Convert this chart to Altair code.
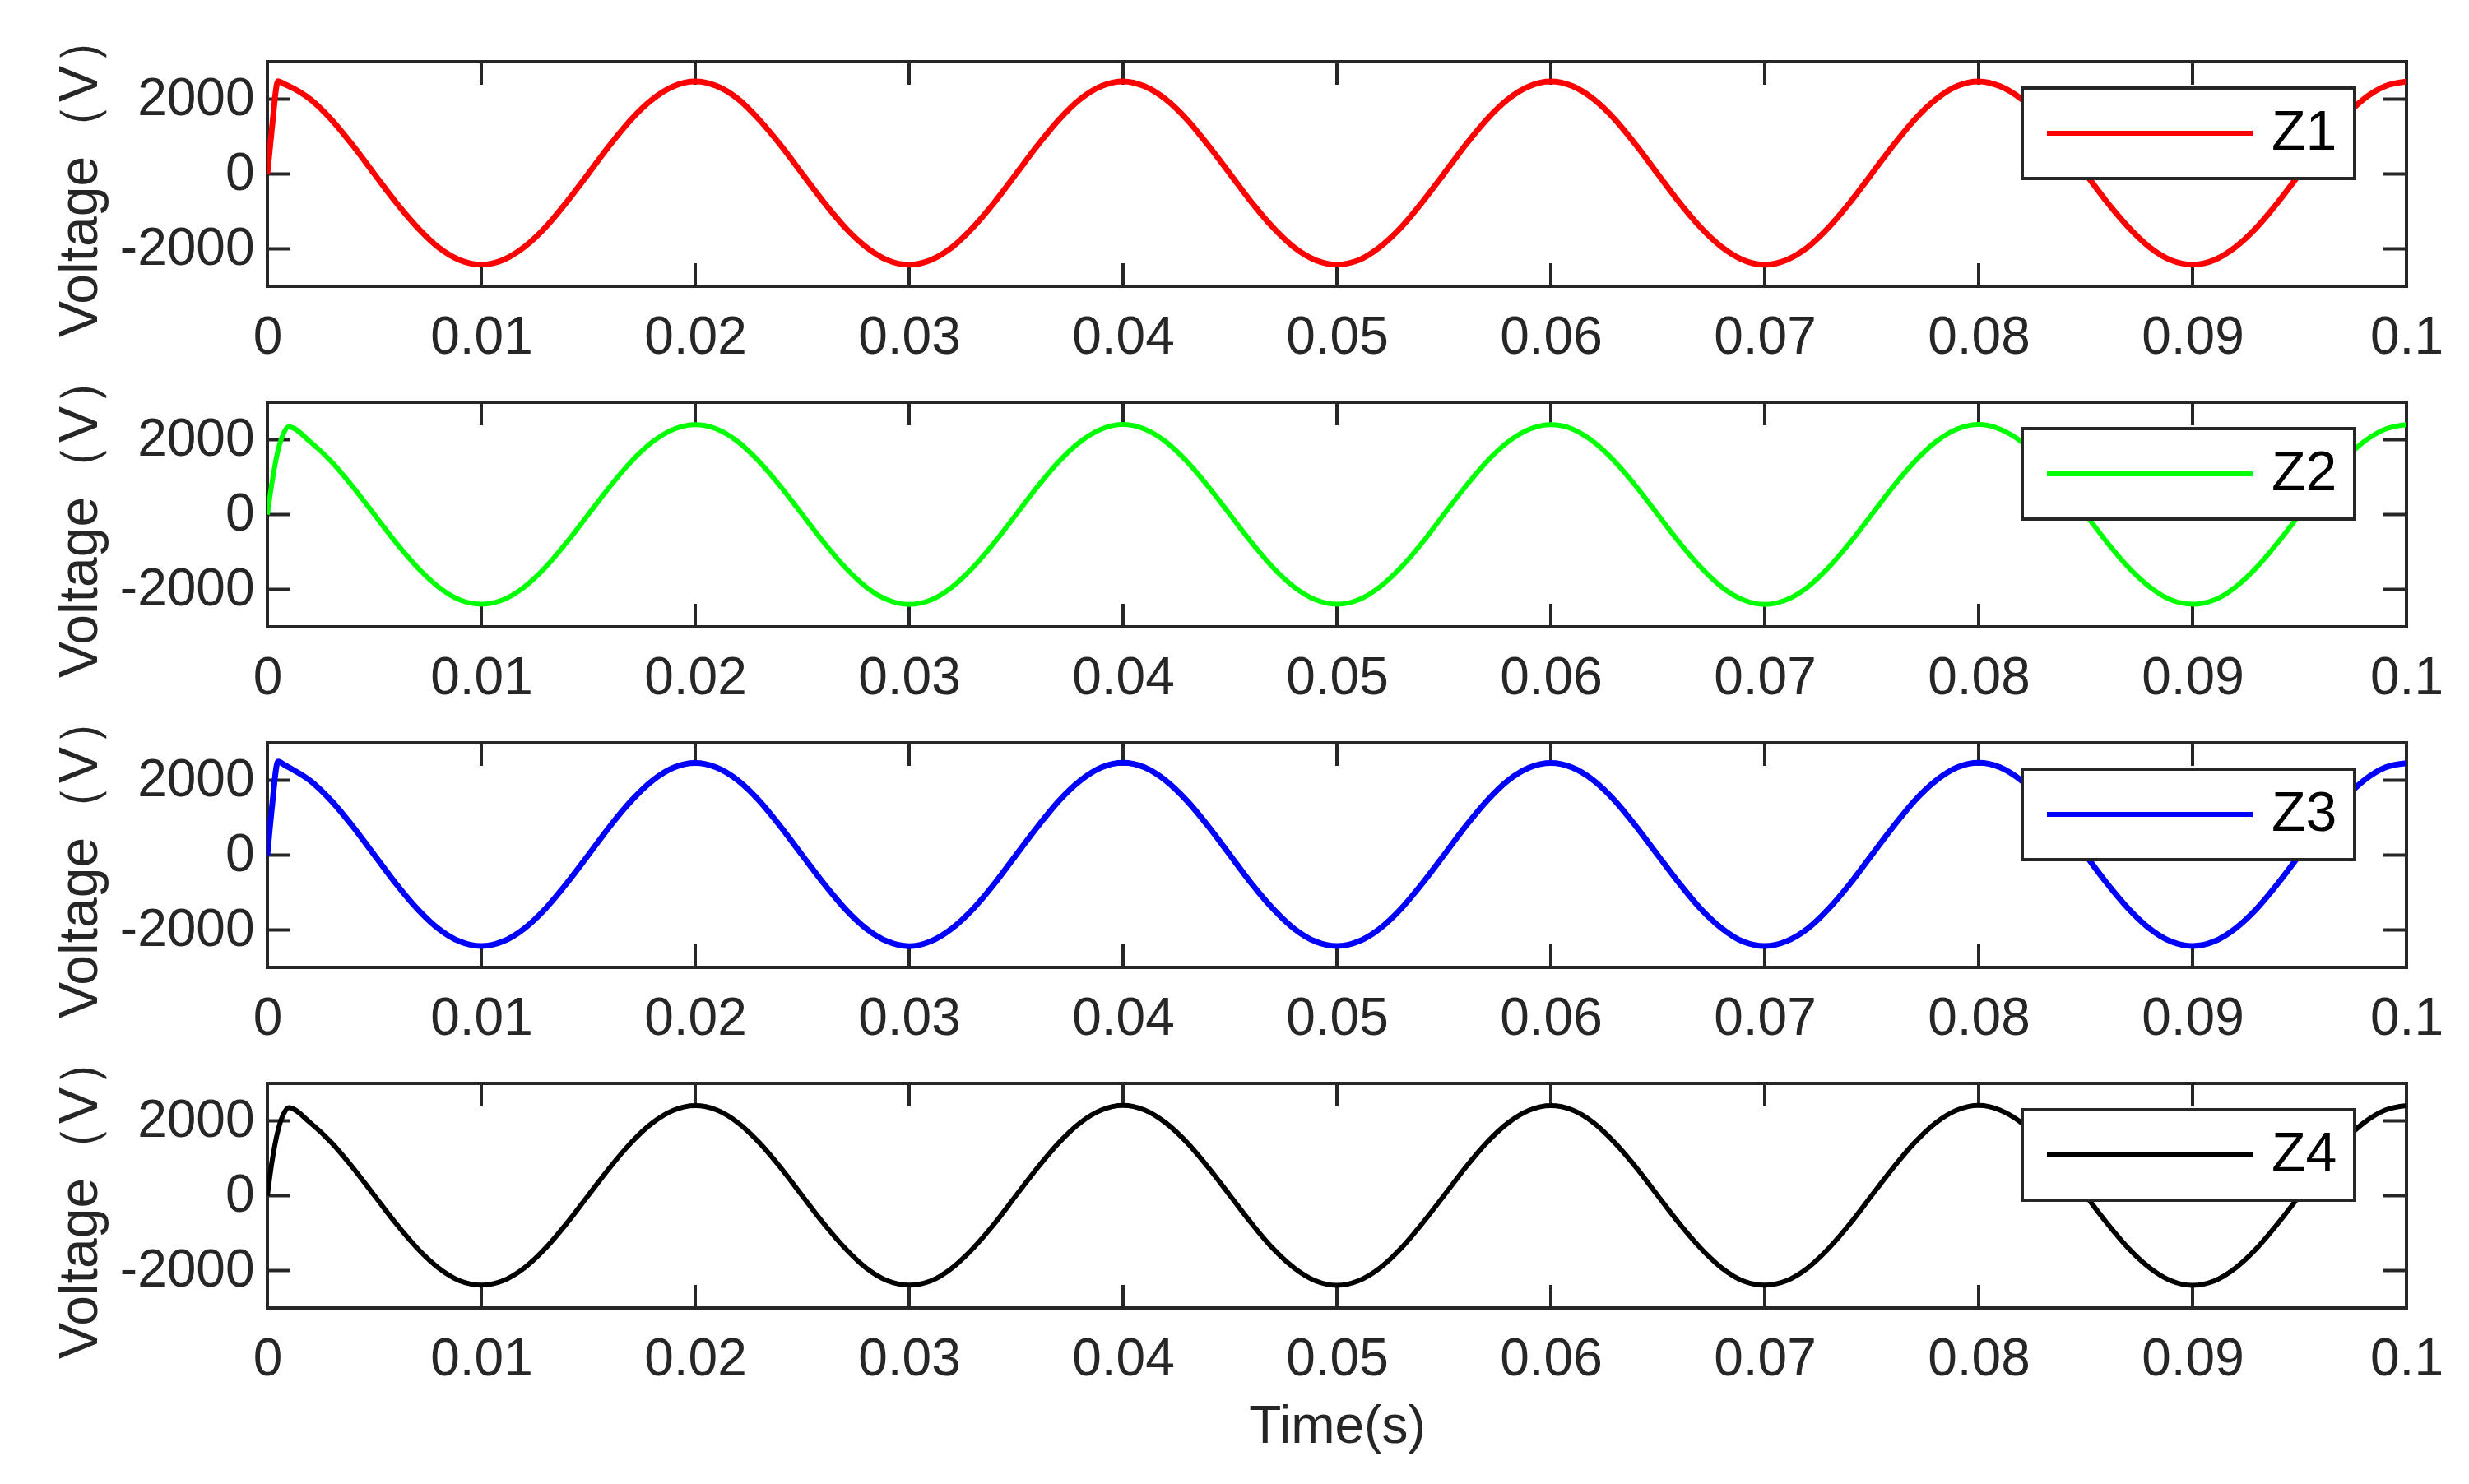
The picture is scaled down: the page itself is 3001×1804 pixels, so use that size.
import altair as alt
import pandas as pd

# ---------------- data ----------------
time_s = [0, 0.0002, 0.0005, 0.0008,
          0.001, 0.002, 0.003, 0.004, 0.005, 0.006, 0.007, 0.008, 0.009, 0.010,
          0.011, 0.012, 0.013, 0.014, 0.015, 0.016, 0.017, 0.018, 0.019, 0.020,
          0.021, 0.022, 0.023, 0.024, 0.025, 0.026, 0.027, 0.028, 0.029, 0.030,
          0.031, 0.032, 0.033, 0.034, 0.035, 0.036, 0.037, 0.038, 0.039, 0.040,
          0.041, 0.042, 0.043, 0.044, 0.045, 0.046, 0.047, 0.048, 0.049, 0.050,
          0.051, 0.052, 0.053, 0.054, 0.055, 0.056, 0.057, 0.058, 0.059, 0.060,
          0.061, 0.062, 0.063, 0.064, 0.065, 0.066, 0.067, 0.068, 0.069, 0.070,
          0.071, 0.072, 0.073, 0.074, 0.075, 0.076, 0.077, 0.078, 0.079, 0.080,
          0.081, 0.082, 0.083, 0.084, 0.085, 0.086, 0.087, 0.088, 0.089, 0.090,
          0.091, 0.092, 0.093, 0.094, 0.095, 0.096, 0.097, 0.098, 0.099, 0.100]

z1 = [0, 1150, 2480, 2400,
      2350, 2000, 1450, 760, 0, -750, -1420, -1960, -2300, -2420,
      -2300, -1955, -1425, -745, 5, 765, 1455, 1995, 2345, 2470,
      2350, 2005, 1445, 765, 10, -745, -1425, -1955, -2305, -2425,
      -2300, -1960, -1420, -750, 0, 760, 1450, 2000, 2350, 2475,
      2345, 1995, 1450, 755, 5, -750, -1420, -1960, -2300, -2420,
      -2305, -1955, -1425, -745, 5, 765, 1455, 2000, 2345, 2470,
      2350, 2000, 1455, 760, 0, -755, -1425, -1955, -2300, -2425,
      -2300, -1960, -1420, -750, 5, 760, 1450, 1995, 2350, 2475,
      2345, 2000, 1450, 765, 5, -750, -1420, -1960, -2305, -2420,
      -2300, -1955, -1425, -750, 0, 765, 1455, 2000, 2345, 2465]

z2 = [0, 800, 1720, 2220,
      2345, 1945, 1410, 740, 0, -740, -1405, -1935, -2280, -2395,
      -2280, -1940, -1410, -740, 0, 740, 1410, 1940, 2280, 2400,
      2285, 1945, 1410, 745, 5, -735, -1405, -1940, -2280, -2400,
      -2285, -1940, -1405, -740, 0, 745, 1415, 1945, 2285, 2405,
      2285, 1945, 1410, 740, 0, -740, -1410, -1935, -2275, -2395,
      -2280, -1935, -1410, -745, 5, 740, 1410, 1940, 2280, 2400,
      2285, 1940, 1410, 745, 0, -740, -1405, -1940, -2280, -2400,
      -2280, -1940, -1405, -740, 0, 745, 1410, 1945, 2285, 2405,
      2280, 1945, 1415, 740, 5, -740, -1410, -1935, -2280, -2395,
      -2285, -1940, -1410, -740, 0, 740, 1410, 1940, 2280, 2400]

z3 = [0, 1200, 2500, 2410,
      2345, 1990, 1445, 760, 5, -755, -1430, -1965, -2310, -2430,
      -2310, -1965, -1430, -750, 0, 760, 1445, 1990, 2340, 2460,
      2340, 1995, 1450, 755, 0, -750, -1430, -1965, -2310, -2435,
      -2305, -1960, -1430, -755, 5, 755, 1450, 1990, 2345, 2465,
      2345, 1990, 1445, 760, 5, -755, -1425, -1965, -2310, -2430,
      -2310, -1965, -1430, -750, 0, 760, 1445, 1995, 2340, 2460,
      2340, 1995, 1450, 755, 0, -750, -1430, -1960, -2315, -2430,
      -2305, -1965, -1425, -755, 5, 755, 1450, 1990, 2345, 2465,
      2345, 1990, 1445, 760, 0, -755, -1430, -1965, -2310, -2430,
      -2310, -1960, -1430, -750, 5, 760, 1445, 1990, 2340, 2455]

z4 = [0, 850, 1750, 2230,
      2350, 1950, 1415, 745, 5, -735, -1400, -1930, -2275, -2390,
      -2275, -1935, -1405, -735, 5, 745, 1415, 1945, 2285, 2405,
      2290, 1950, 1415, 745, 0, -740, -1400, -1935, -2275, -2390,
      -2280, -1935, -1400, -740, 5, 745, 1415, 1950, 2290, 2410,
      2290, 1945, 1415, 745, 5, -735, -1405, -1930, -2275, -2395,
      -2275, -1935, -1405, -735, 0, 745, 1415, 1945, 2285, 2405,
      2290, 1950, 1410, 745, 0, -740, -1400, -1935, -2280, -2390,
      -2275, -1935, -1400, -740, 5, 745, 1415, 1950, 2290, 2410,
      2285, 1950, 1415, 745, 5, -735, -1405, -1930, -2275, -2395,
      -2280, -1935, -1405, -735, 0, 745, 1415, 1945, 2285, 2405]

series_names = ["Z1", "Z2", "Z3", "Z4"]
series_colors = ["#FF0000", "#00FF00", "#0000FF", "#000000"]
series_values = [z1, z2, z3, z4]
series_widths = [7, 6, 7, 6]

x_ticks = [0, 0.01, 0.02, 0.03, 0.04, 0.05, 0.06, 0.07, 0.08, 0.09, 0.1]
y_ticks = [-2000, 0, 2000]
x_domain = [0, 0.1]
y_domain = [-3000, 3000]

# ---------------- style ----------------
W, H = 2600, 273
AX = "#262626"
TICK = 28
FONT = "Liberation Sans"
FS = 64


def panel(values, name, color, lw, last):
    df = pd.DataFrame({"t": time_s, "v": values, "series": [name] * len(time_s)})
    xs = alt.Scale(domain=x_domain, nice=False, zero=False)
    ys = alt.Scale(domain=y_domain, nice=False, zero=False)

    xaxis_kw = dict(values=x_ticks, format="~g", ticks=False, tickSize=0, domain=False,
                    grid=False, labelPadding=30, labelFontSize=FS, labelColor=AX,
                    labelFont=FONT, labelFlush=False, labelOverlap=False)
    if last:
        xaxis_kw.update(title="Time(s)", titleFontSize=FS, titleFont=FONT,
                        titleColor=AX, titleFontWeight="normal", titlePadding=18)
    else:
        xaxis_kw.update(title=None)
    xaxis = alt.Axis(**xaxis_kw)

    yaxis = alt.Axis(values=y_ticks, labelExpr="datum.value + ''", ticks=False,
                     tickSize=0, domain=False, grid=False, labelPadding=16,
                     labelFontSize=FS, labelColor=AX, labelFont=FONT,
                     title="Voltage（V）", titleFontSize=66, titleFont=FONT,
                     titleColor=AX, titleFontWeight="normal", titlePadding=14)

    line = alt.Chart(df).mark_line(strokeWidth=lw, interpolate="monotone", clip=True).encode(
        x=alt.X("t:Q", scale=xs, axis=xaxis),
        y=alt.Y("v:Q", scale=ys, axis=yaxis),
        color=alt.Color("series:N",
                        scale=alt.Scale(domain=[name], range=[color]),
                        legend=alt.Legend(orient="none", legendX=2133, legendY=32,
                                          title=None,
                                          symbolType="M-1,0H9",
                                          symbolSize=2500, symbolStrokeWidth=6,
                                          symbolFillColor="transparent",
                                          labelFontSize=68, labelColor="#000000",
                                          labelFont=FONT, fillColor="#FFFFFF",
                                          strokeColor=AX, padding=21,
                                          labelOffset=214)),
    )

    xt = pd.DataFrame({"t": x_ticks})
    yt = pd.DataFrame({"v": y_ticks})
    rule = dict(color=AX, strokeWidth=4)
    xb = alt.Chart(xt).mark_rule(**rule).encode(
        x=alt.X("t:Q", scale=xs, axis=xaxis), y=alt.value(H), y2=alt.value(H - TICK))
    xtp = alt.Chart(xt).mark_rule(**rule).encode(
        x=alt.X("t:Q", scale=xs, axis=xaxis), y=alt.value(0), y2=alt.value(TICK))
    yl = alt.Chart(yt).mark_rule(**rule).encode(
        y=alt.Y("v:Q", scale=ys, axis=yaxis), x=alt.value(0), x2=alt.value(TICK))
    yr = alt.Chart(yt).mark_rule(**rule).encode(
        y=alt.Y("v:Q", scale=ys, axis=yaxis), x=alt.value(W - TICK), x2=alt.value(W))

    return alt.layer(xb, xtp, yl, yr, line).properties(width=W, height=H)


panels = [panel(v, n, c, w, i == 3) for i, (v, n, c, w) in
          enumerate(zip(series_values, series_names, series_colors, series_widths))]

chart = alt.vconcat(*panels, spacing=141, bounds="flush").resolve_scale(
    color="independent"
).properties(
    padding={"left": 54, "top": 3, "right": 5, "bottom": 5}
).configure(font=FONT).configure_view(stroke=AX, strokeWidth=4).configure_legend(
    strokeWidth=4
)

chart.save("out.html", embed_options={"renderer": "svg", "actions": False})
